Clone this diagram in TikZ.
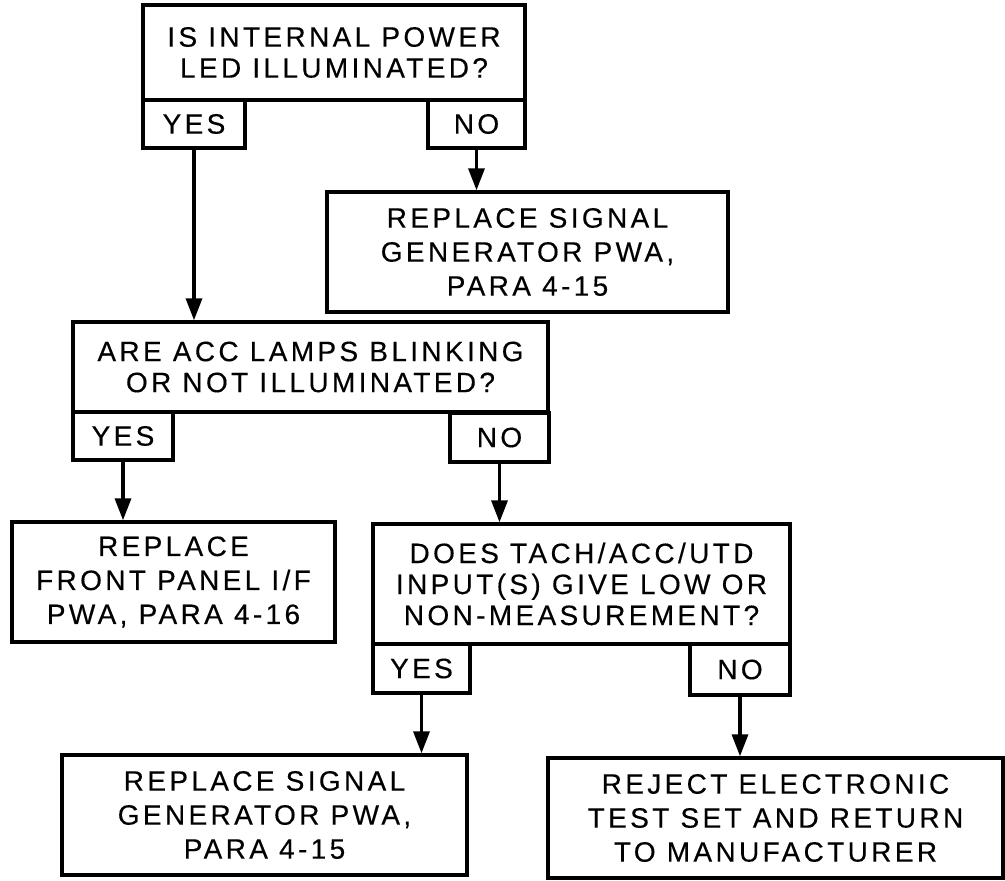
\documentclass[tikz,border=0pt]{standalone}
\usepackage{fontspec}
\setmainfont[LetterSpace=12,FakeBold=0.3]{Liberation Sans}
\usetikzlibrary{arrows.meta}
\tikzset{
  box/.style={draw, line width=3.4pt, align=center, inner sep=0pt,
    font=\fontsize{28}{31}\selectfont},
  res/.style={box, font=\fontsize{28}{34}\selectfont},
  ans/.style={box},
  arr/.style={line width=3.4pt, -{Triangle[length=22pt,width=16pt]}}
}
\begin{document}
\begin{tikzpicture}[x=1pt,y=-1pt]
\useasboundingbox (0,0) rectangle (1005,881);
% question 1
\node[box, minimum width=382pt, minimum height=95pt] (q1) at (334,52.5) {IS INTERNAL POWER\\LED ILLUMINATED?};
\node[ans, minimum width=102pt, minimum height=48pt] (q1y) at (194,124) {YES};
\node[ans, minimum width=97pt, minimum height=48pt] (q1n) at (476.5,124) {NO};
% result 2
\node[res, minimum width=401pt, minimum height=120pt] (r2) at (527.5,252) {REPLACE SIGNAL\\GENERATOR PWA,\\PARA 4-15};
% question 3
\node[box, minimum width=475pt, minimum height=90pt] (q3) at (310.5,367) {ARE ACC LAMPS BLINKING\\OR NOT ILLUMINATED?};
\node[ans, minimum width=100pt, minimum height=48pt] (q3y) at (123,436) {YES};
\node[ans, minimum width=99pt, minimum height=49pt] (q3n) at (499.5,437.5) {NO};
% result 4
\node[res, minimum width=323pt, minimum height=120pt] (r4) at (173.5,582) {REPLACE\\FRONT PANEL I/F\\PWA, PARA 4-16};
% question 5
\node[box, minimum width=417pt, minimum height=120pt] (q5) at (581.5,584) {DOES TACH/ACC/UTD\\INPUT(S) GIVE LOW OR\\NON-MEASUREMENT?};
\node[ans, minimum width=97pt, minimum height=49pt] (q5y) at (421.5,668.5) {YES};
\node[ans, minimum width=100pt, minimum height=51pt] (q5n) at (740,669.5) {NO};
% results 6, 7
\node[res, minimum width=405pt, minimum height=120pt] (r6) at (264.5,815) {REPLACE SIGNAL\\GENERATOR PWA,\\PARA 4-15};
\node[res, minimum width=455pt, minimum height=120pt] (r7) at (775.5,818) {REJECT ELECTRONIC\\TEST SET AND RETURN\\TO MANUFACTURER};
% connectors
\draw[arr] (q1y.south) -- (q1y.south |- q3.north);
\draw[arr] (q1n.south) -- (q1n.south |- r2.north);
\draw[arr] (q3y.south) -- (q3y.south |- r4.north);
\draw[arr] (q3n.south) -- (q3n.south |- q5.north);
\draw[arr] (q5y.south) -- (q5y.south |- r6.north);
\draw[arr] (q5n.south) -- (q5n.south |- r7.north);
\end{tikzpicture}
\end{document}
